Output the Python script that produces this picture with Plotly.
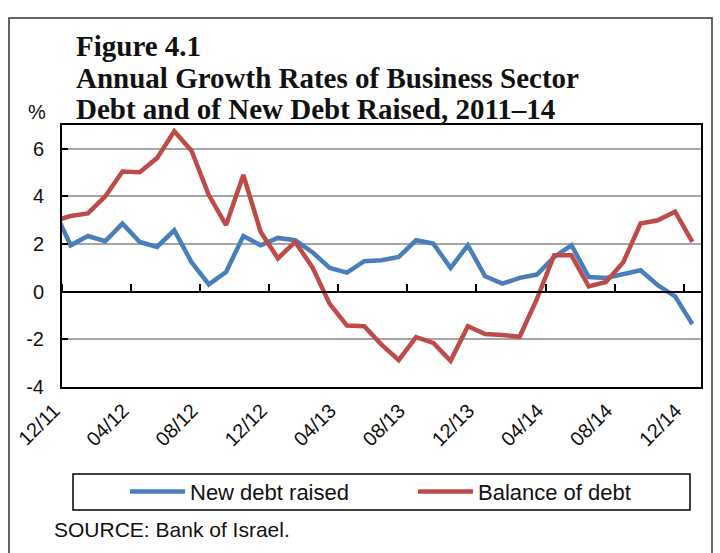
import plotly.graph_objects as go

# Monthly observations; the first month (11/11) lies just outside the visible range
months = ["11/11", "12/11",
          "01/12", "02/12", "03/12", "04/12", "05/12", "06/12", "07/12", "08/12", "09/12", "10/12", "11/12", "12/12",
          "01/13", "02/13", "03/13", "04/13", "05/13", "06/13", "07/13", "08/13", "09/13", "10/13", "11/13", "12/13",
          "01/14", "02/14", "03/14", "04/14", "05/14", "06/14", "07/14", "08/14", "09/14", "10/14", "11/14", "12/14"]

new_debt_raised = [3.49, 1.95,
                   2.34, 2.12, 2.86, 2.09, 1.88, 2.58, 1.24, 0.31, 0.83, 2.34, 1.95, 2.26,
                   2.16, 1.66, 1.00, 0.80, 1.28, 1.32, 1.46, 2.16, 2.02, 1.00, 1.95, 0.65,
                   0.34, 0.58, 0.72, 1.46, 1.95, 0.62, 0.58, 0.76, 0.90, 0.27, -0.19, -1.36]

balance_of_debt = [2.96, 3.18,
                   3.29, 4.00, 5.05, 5.02, 5.61, 6.74, 5.92, 4.06, 2.80, 4.90, 2.52, 1.40,
                   2.09, 1.03, -0.51, -1.42, -1.45, -2.22, -2.87, -1.91, -2.15, -2.90, -1.45, -1.78,
                   -1.82, -1.89, -0.30, 1.53, 1.53, 0.22, 0.41, 1.24, 2.86, 3.00, 3.36, 2.09]

tick_labels = ["12/11", "04/12", "08/12", "12/12", "04/13", "08/13", "12/13", "04/14", "08/14", "12/14"]
y_ticks = [-4, -2, 0, 2, 4, 6]
y_tick_text = ["-4", "-2", "0", "2", "4", "6"]

x_idx = list(range(len(months)))
tick_pos = [months.index(m) - 0.5 for m in tick_labels]      # tick marks between months
x_range = [0.5, len(months) - 0.5]
y_range = [-4, 7]

BLUE = "#4A7EBB"
RED = "#BE4B48"
TXT = "#111111"
SANS = "Liberation Sans, Arial, sans-serif"
SERIF = "Liberation Serif, Times New Roman, serif"

fig = go.Figure()
fig.add_trace(go.Scatter(x=x_idx, y=new_debt_raised, mode="lines", name="New debt raised",
                         legend="legend", line=dict(color=BLUE, width=4.5), customdata=months,
                         hovertemplate="%{customdata}: %{y}<extra></extra>"))
fig.add_trace(go.Scatter(x=x_idx, y=balance_of_debt, mode="lines", name="Balance of debt",
                         legend="legend2", xaxis="x2", line=dict(color=RED, width=4.5), customdata=months,
                         hovertemplate="%{customdata}: %{y}<extra></extra>"))

legend_common = dict(orientation="h", xanchor="left", y=-0.40, yanchor="middle",
                     font=dict(family=SANS, size=22, color=TXT), bgcolor="rgba(0,0,0,0)",
                     borderwidth=0, itemwidth=55)

fig.update_layout(
    width=720, height=553,
    margin=dict(l=62, r=19, t=125, b=166),
    paper_bgcolor="white", plot_bgcolor="white",
    font=dict(family=SANS, color=TXT, size=19),
    showlegend=True,
    xaxis=dict(range=x_range, tickmode="array", tickvals=tick_pos, ticktext=tick_labels,
               tickangle=-45, ticks="", showgrid=False, zeroline=False,
               showline=True, mirror=True, linecolor="black", linewidth=2,
               tickfont=dict(family=SANS, size=20, color=TXT), ticklabelstandoff=2,
               ticklabelshift=-8),
    xaxis2=dict(range=x_range, overlaying="x", anchor="free", side="top",
                position=(0 - y_range[0]) / (y_range[1] - y_range[0]),
                tickmode="array", tickvals=tick_pos, showticklabels=False,
                ticks="outside", ticklen=7, tickwidth=2, tickcolor="black",
                showline=True, linecolor="black", linewidth=2, showgrid=False, zeroline=False),
    yaxis=dict(range=y_range, tickmode="array", tickvals=y_ticks, ticktext=y_tick_text,
               ticks="inside", ticklen=6,
               tickwidth=2, tickcolor="black", showgrid=True, gridcolor="#A6A6A6", gridwidth=1.5,
               zeroline=False, showline=True, mirror=True, linecolor="black", linewidth=2,
               tickfont=dict(family=SANS, size=20, color=TXT), ticklabelstandoff=12),
    legend=dict(x=(125 - 62) / 639, **legend_common),
    legend2=dict(x=(413 - 62) / 639, **legend_common),
)

# Legend frame
fig.add_shape(type="rect", xref="paper", yref="paper",
              x0=(73 - 62) / 639, x1=(690 - 62) / 639, y0=(387 - 510) / 262, y1=(387 - 474) / 262,
              line=dict(color="black", width=1.5), fillcolor="rgba(0,0,0,0)", layer="above")
# Outer page frame
fig.add_shape(type="rect", xref="paper", yref="paper",
              x0=(9 - 62) / 639, x1=(712 - 62) / 639, y0=(387 - 600) / 262, y1=(387 - 18) / 262,
              line=dict(color="#333333", width=1.5), fillcolor="rgba(0,0,0,0)", layer="below")

title_lines = ["Figure 4.1", "Annual Growth Rates of Business Sector", "Debt and of New Debt Raised, 2011–14"]
title_centers_px = [46, 78, 109]
for line, cy in zip(title_lines, title_centers_px):
    fig.add_annotation(xref="paper", yref="paper", x=(74 - 62) / 639, y=(387 - cy) / 262,
                       xanchor="left", yanchor="middle", align="left", showarrow=False,
                       text="<b>" + line + "</b>",
                       font=dict(family=SERIF, size=29, color=TXT))
fig.add_annotation(xref="paper", yref="paper", x=(37 - 62) / 639, y=(387 - 112) / 262,
                   xanchor="center", yanchor="middle", showarrow=False, text="%",
                   font=dict(family=SANS, size=20, color=TXT))
fig.add_annotation(xref="paper", yref="paper", x=(52 - 62) / 639, y=(387 - 529) / 262,
                   xanchor="left", yanchor="middle", showarrow=False, text="SOURCE: Bank of Israel.",
                   font=dict(family=SANS, size=21, color=TXT))

fig.write_html("out.html")
